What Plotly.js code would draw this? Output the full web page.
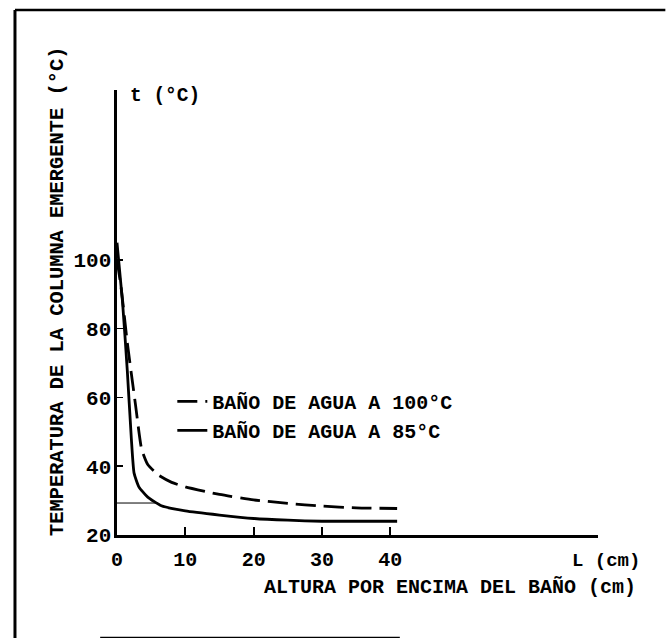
<!DOCTYPE html>
<html>
<head>
<meta charset="utf-8">
<script src="https://cdn.plot.ly/plotly-3.0.1.min.js"></script>
<style>
  html, body { margin: 0; padding: 0; background: #fff; }
  #chart { width: 667px; height: 638px; }
</style>
</head>
<body>
<div id="chart"></div>
<script>
// Baño de agua a 100 °C (dashed)
const L100 = [0, 0.6, 1.5, 2.7, 3.6, 4.5, 6, 8, 10, 15, 20, 25, 30, 35, 41];
const T100 = [100, 92, 76, 58, 45, 40.5, 37.5, 35.3, 34, 31.8, 30.2, 29.2, 28.4, 27.9, 27.7];
// Baño de agua a 85 °C (solid)
const L85 = [0, 0.8, 1.5, 2.1, 2.5, 3.2, 4.5, 6.5, 10, 15, 20, 25, 30, 35, 41];
const T85 = [105, 88, 68, 48, 38, 34, 31, 28.5, 27, 25.8, 24.8, 24.3, 24, 24, 24];
// thin reference line near the base
const refL = [0, 6];
const refT = [29.3, 29.3];

const names = ['BAÑO DE AGUA A 100°C', 'BAÑO DE AGUA A 85°C'];
const xTicks = [0, 10, 20, 30, 40];
const yTicks = [20, 40, 60, 80, 100];

const FONT = 'Liberation Mono, DejaVu Sans Mono, monospace';
const f = (s) => ({family: FONT, size: s, color: '#000', weight: 'bold'});

const traces = [
  {x: L100, y: T100, name: names[0], mode: 'lines',
   line: {color: '#000', width: 2.8, dash: '20px,8px', shape: 'spline', smoothing: 0.5}},
  {x: L85, y: T85, name: names[1], mode: 'lines',
   line: {color: '#000', width: 2.8, shape: 'spline', smoothing: 0.5}},
  {x: refL, y: refT, mode: 'lines', showlegend: false,
   line: {color: '#000', width: 1}}
];

const layout = {
  width: 667, height: 638,
  margin: {l: 117, r: 69, t: 90, b: 103},
  paper_bgcolor: '#fff', plot_bgcolor: '#fff',
  showlegend: true,
  legend: {x: 0.115, y: 0.344, xanchor: 'left', yanchor: 'top', font: f(20),
           itemwidth: 30, bgcolor: 'rgba(0,0,0,0)', tracegroupgap: 0},
  xaxis: {range: [0, 70.4], showgrid: false, zeroline: false,
          showline: true, linecolor: '#000', linewidth: 2.5,
          tickvals: xTicks, ticktext: xTicks.map(String),
          ticks: 'inside', ticklen: 8, tickwidth: 2, tickcolor: '#000',
          tickfont: f(20), ticklabelstandoff: 4},
  yaxis: {range: [20, 149.4], showgrid: false, zeroline: false,
          showline: true, linecolor: '#000', linewidth: 3.5,
          tickvals: yTicks, ticktext: yTicks.map(String),
          ticks: 'inside', ticklen: 6, tickwidth: 1.5, tickcolor: '#000',
          tickfont: f(21), ticklabelstandoff: -2},
  annotations: [
    {xref: 'paper', yref: 'paper', x: 0.0229, y: 0.9865, xanchor: 'left', yanchor: 'middle',
     text: 't (°C)', showarrow: false, font: f(19.5)},
    {xref: 'paper', yref: 'paper', x: 1.0915, y: -0.0584, xanchor: 'right', yanchor: 'middle',
     text: 'L (cm)', showarrow: false, font: f(19)},
    {xref: 'paper', yref: 'paper', x: 1.0832, y: -0.1169, xanchor: 'right', yanchor: 'middle',
     text: 'ALTURA POR ENCIMA DEL BAÑO (cm)', showarrow: false, font: f(20)},
    {xref: 'paper', yref: 'paper', x: -0.1247, y: 0.546, xanchor: 'center', yanchor: 'middle',
     text: 'TEMPERATURA DE LA COLUMNA EMERGENTE (°C)', textangle: -90, showarrow: false, font: f(20.4)}
  ],
  shapes: [
    {type: 'line', xref: 'paper', yref: 'paper', x0: -0.2121, x1: -0.2121, y0: 1.1798, y1: -0.24,
     line: {color: '#000', width: 3}},
    {type: 'line', xref: 'paper', yref: 'paper', x0: -0.2121, x1: 1.14, y0: 1.1798, y1: 1.1798,
     line: {color: '#000', width: 2.5}},
    {type: 'line', xref: 'paper', yref: 'paper', x0: -0.035, x1: 0.588, y0: -0.2315, y1: -0.2315,
     line: {color: '#000', width: 2.5}}
  ]
};

Plotly.newPlot('chart', traces, layout, {displayModeBar: false, staticPlot: true});
</script>
</body>
</html>
